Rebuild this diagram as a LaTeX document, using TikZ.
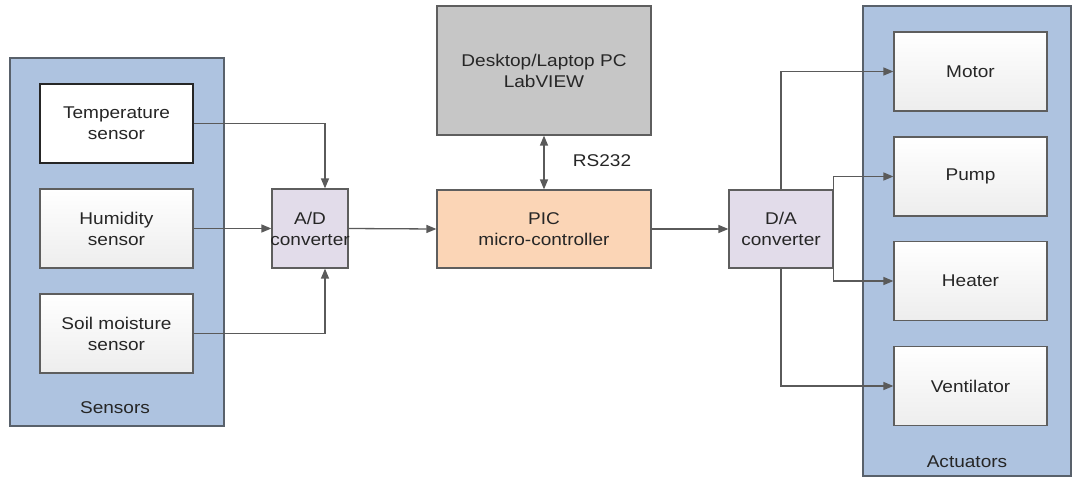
\documentclass[tikz,border=0pt]{standalone}
\usepackage{fontspec}
\setmainfont{Liberation Sans}[FakeStretch=1.12]
\usetikzlibrary{arrows.meta}
\definecolor{groupblue}{HTML}{AEC3E0}
\definecolor{groupedge}{HTML}{59616B}
\definecolor{convfill}{HTML}{E2DCEA}
\definecolor{picfill}{HTML}{FBD5B6}
\definecolor{pcfill}{HTML}{C6C6C6}
\definecolor{boxedge}{HTML}{5E5E5E}
\definecolor{wire}{HTML}{5A5A5A}
\definecolor{txt}{HTML}{262626}
\tikzset{
  every node/.style={font=\fontsize{17}{21}\selectfont, text=txt, align=center, inner sep=0pt},
  group/.style={draw=groupedge, fill=groupblue, line width=1.2pt},
  unit/.style={draw=boxedge, line width=1.2pt, top color=white, bottom color=gray!14,
    minimum width=153pt, minimum height=79pt},
  plainunit/.style={draw=black!85, fill=white, line width=1.2pt,
    minimum width=153pt, minimum height=79pt},
  conv/.style={draw=boxedge, fill=convfill, line width=1.2pt},
  wireline/.style={draw=wire, line width=1.3pt, -{Triangle[length=10pt,width=8pt]}},
  wirepair/.style={draw=wire, line width=1.3pt, {Triangle[length=10pt,width=8pt]}-{Triangle[length=10pt,width=8pt]}},
}
\begin{document}
\begin{tikzpicture}[x=1pt, y=-1pt]
\useasboundingbox (0,0) rectangle (1072,477);

% sensor group
\node[group, minimum width=214pt, minimum height=368pt] (sensors) at (117,242) {};
\node (sensorslabel) at (115,408) {Sensors};
\node[plainunit] (temp) at (116.5,123.5) {Temperature\\sensor};
\node[unit] (hum) at (116.5,228.5) {Humidity\\sensor};
\node[unit] (soil) at (116.5,333.5) {Soil moisture\\sensor};

% converters and controller (the A/D caption is wider than its narrow box)
\node[conv, minimum width=76pt, minimum height=79pt] (ad) at (310,228.5) {A/D\\\makebox[0pt]{converter}};
\node[draw=boxedge, fill=picfill, line width=1.2pt, minimum width=214pt, minimum height=78pt] (pic) at (544,229) {PIC\\micro-controller};
\node[draw=boxedge, fill=pcfill, line width=1.2pt, minimum width=214pt, minimum height=129pt] (pc) at (544,70.5) {Desktop/Laptop PC\\LabVIEW};
\node (rs) at (602,161) {RS232};
\node[conv, minimum width=104pt, minimum height=78pt] (da) at (781,229) {D/A\\converter};

% actuator group
\node[group, minimum width=208pt, minimum height=470pt] (actuators) at (967,241) {};
\node (actuatorslabel) at (967,462) {Actuators};
\node[unit] (motor) at (970.5,71.5) {Motor};
\node[unit] (pump) at (970.5,176.5) {Pump};
\node[unit] (heater) at (970.5,281) {Heater};
\node[unit] (vent) at (970.5,386) {Ventilator};

% signal paths
\draw[wireline] (temp.east) -| ([xshift=15pt]ad.north);
\draw[wireline] (hum.east) -- (ad.west);
\draw[wireline] (soil.east) -| ([xshift=15pt]ad.south);
\draw[wireline] (ad.east) -- (pic.west);
\draw[wirepair] (pc.south) -- (pic.north);
\draw[wireline] (pic.east) -- (da.west);
\draw[wireline] (da.north) |- (motor.west);
\draw[wireline] (da.east) |- (pump.west);
\draw[wireline] (da.east) |- (heater.west);
\draw[wireline] (da.south) |- (vent.west);
\end{tikzpicture}
\end{document}
